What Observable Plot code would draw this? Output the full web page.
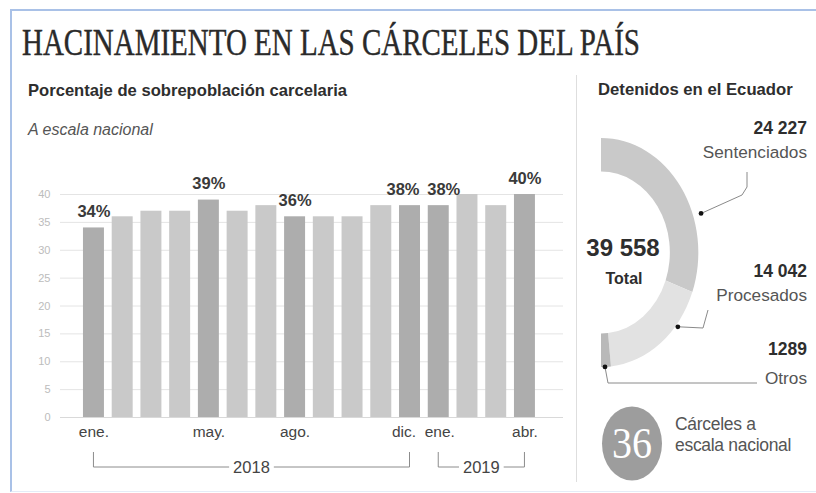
<!DOCTYPE html>
<html>
<head>
<meta charset="utf-8">
<script src="https://cdn.jsdelivr.net/npm/d3@7"></script>
<script src="https://cdn.jsdelivr.net/npm/@observablehq/plot@0.6"></script>
<style>
  html, body { margin: 0; padding: 0; background: #fff; }
  body { width: 816px; height: 493px; position: relative; overflow: hidden; font-family: "Liberation Sans", Arial, sans-serif; }
  .abs { position: absolute; }
  #frame { left: 10px; top: 9px; right: 0; bottom: 1px; border-left: 2px solid #a9c1e7; border-top: 2px solid #a9c1e7; border-bottom: 1px solid #e4ecf7; }
</style>
</head>
<body>
<div id="frame" class="abs"></div>
<svg id="header" class="abs" style="left:0;top:0" width="816" height="145"></svg>
<div id="bars" class="abs" style="left:0;top:150px"></div>
<div id="panel" class="abs" style="left:576px;top:70px"></div>
<script>
// ---------- data ----------
const titleText = "HACINAMIENTO EN LAS CÁRCELES DEL PAÍS";
const chartTitle = "Porcentaje de sobrepoblación carcelaria";
const chartSubtitle = "A escala nacional";
const periods = ["2018-01","2018-02","2018-03","2018-04","2018-05","2018-06","2018-07","2018-08","2018-09","2018-10","2018-11","2018-12","2019-01","2019-02","2019-03","2019-04"];
const monthTicks = ["ene.","","","","may.","","","ago.","","","","dic.","ene.","","","abr."];
const overcrowding = [34,36,37,37,39,37,38,36,36,36,38,38,38,40,38,40];
const yTicks = [0,5,10,15,20,25,30,35,40];
const yearLabels = ["2018","2019"];
const yearStart = ["2018-01","2019-01"];
const yearEnd = ["2018-12","2019-04"];
const panelTitle = "Detenidos en el Ecuador";
const detaineeCategories = ["Sentenciados","Procesados","Otros"];
const detainees = [24227, 14042, 1289];
const totalLabel = "Total";
const prisons = 36;
const prisonsLabel = ["Cárceles a", "escala nacional"];

// ---------- header ----------
const header = d3.select("#header");
header.append("text").attr("x", 22).attr("y", 55)
  .attr("font-family", "'Liberation Serif', 'DejaVu Serif', serif").attr("font-size", 37)
  .attr("fill", "#2a2a2a").attr("stroke", "#2a2a2a").attr("stroke-width", 0.4)
  .attr("textLength", 618).attr("lengthAdjust", "spacingAndGlyphs")
  .text(titleText);
header.append("text").attr("x", 28).attr("y", 96)
  .attr("font-size", 16.6).attr("font-weight", "bold").attr("fill", "#2e2e2e").text(chartTitle);
header.append("text").attr("x", 28).attr("y", 135)
  .attr("font-size", 16).attr("font-style", "italic").attr("fill", "#555").text(chartSubtitle);

// ---------- bar chart ----------
const rows = periods.map((p, i) => ({
  period: p, value: overcrowding[i], label: monthTicks[i],
  tone: monthTicks[i] ? "destacado" : "normal",
  pair: monthTicks[i] && monthTicks[i + 1] ? "left" : (monthTicks[i] && monthTicks[i - 1] ? "right" : "none")
}));
const labelled = rows.filter(d => d.label);

function yearBrackets(index, scales) {
  const x = scales.x;
  const bw = typeof x.bandwidth === "function" ? x.bandwidth() : 0;
  const g = d3.create("svg:g");
  yearLabels.forEach((label, i) => {
    const x1 = x(yearStart[i]) + bw / 2, x2 = x(yearEnd[i]) + bw / 2, xm = (x1 + x2) / 2;
    const yTop = 302, yLine = 317;
    const half = label.length * 0.556 * 16.5 / 2 + 4;
    g.append("path").attr("fill", "none").attr("stroke", "#8c8c8c").attr("stroke-width", 1)
      .attr("d", `M${x1},${yTop}V${yLine}H${xm - half}M${xm + half},${yLine}H${x2}V${yTop}`);
    g.append("text").attr("x", xm).attr("y", yLine).attr("dy", "0.36em").attr("text-anchor", "middle")
      .attr("font-size", 16.5).attr("fill", "#444").text(label);
  });
  return g.node();
}

const shift = {left: [-6, -7], right: [1, 5], none: [0, 0]};
const tickMarks = Object.keys(shift).map(k => Plot.text(labelled.filter(d => d.pair === k), {
  x: "period", text: "label", frameAnchor: "bottom", dy: 19, dx: shift[k][0], fontSize: 15.5, fill: "#444"
}));
const valueMarks = Object.keys(shift).map(k => Plot.text(labelled.filter(d => d.pair === k), {
  x: "period", y: "value", text: d => d.value + "%", dy: -16, dx: shift[k][1],
  fontSize: 16.5, fontWeight: "bold", fill: "#3a3a3a"
}));

const barChart = Plot.plot({
  width: 575, height: 337,
  marginTop: 44, marginBottom: 70, marginLeft: 60, marginRight: 12,
  style: {fontFamily: "'Liberation Sans', Arial, sans-serif", background: "transparent", overflow: "visible"},
  x: {type: "band", domain: periods, paddingInner: 0.27, paddingOuter: 0.888, align: 0.45, round: false, axis: null},
  y: {domain: [0, 40], axis: null},
  color: {type: "ordinal", domain: ["destacado", "normal"], range: ["#adadad", "#c9c9c9"]},
  marks: [
    Plot.gridY(yTicks, {stroke: "#e4e4e4", strokeOpacity: 1}),
    Plot.ruleY([0], {stroke: "#d9d9d9"}),
    Plot.axisY(yTicks, {anchor: "left", label: null, tickSize: 0, tickPadding: 10, fontSize: 11, color: "#bcbcbc", tickFormat: d => String(d)}),
    Plot.barY(rows, {x: "period", y: "value", fill: "tone"}),
    ...tickMarks,
    ...valueMarks,
    yearBrackets
  ]
});
document.getElementById("bars").appendChild(barChart);

// ---------- detainees panel ----------
const segColor = Plot.scale({color: {type: "ordinal", domain: detaineeCategories, range: ["#c9c9c9", "#e2e2e2", "#b9b9b9"]}});
const fmt = n => n >= 10000 ? d3.format(",")(n).replace(/,/g, " ") : String(n);

function donut() {
  const g = d3.create("svg:g");
  const cx = 25, cy = 182.5, sx = 0.85, rIn = 81, rOut = 114.5;
  g.append("line").attr("x1", 0.5).attr("x2", 0.5).attr("y1", 5).attr("y2", 412).attr("stroke", "#dedede");
  g.append("text").attr("x", 22).attr("y", 25).attr("text-anchor", "start").attr("font-size", 16.7).attr("font-weight", "bold")
    .attr("fill", "#2e2e2e").text(panelTitle);
  const pie = d3.pie().sort(null).startAngle(0).endAngle(Math.PI)(detainees);
  const arc = d3.arc().innerRadius(rIn).outerRadius(rOut);
  g.append("g").attr("transform", `translate(${cx},${cy}) scale(${sx},1)`)
    .selectAll("path").data(pie).join("path")
    .attr("d", arc).attr("fill", (d, i) => segColor.apply(detaineeCategories[i]));
  const callouts = [
    {t: 0.65, r: 124, path: [[166, 125], [171, 117], [171, 102]], numY: 64, labY: 88},
    {t: 0.30, r: 117, path: [[127, 258], [132, 240]], numY: 207, labY: 231},
    {t: 0.60, r: 114.5, path: [[32, 313], [181, 313]], numY: 285, labY: 314}
  ];
  pie.forEach((s, i) => {
    const c = callouts[i];
    const a = s.startAngle + c.t * (s.endAngle - s.startAngle);
    const px = cx + sx * c.r * Math.sin(a), py = cy - c.r * Math.cos(a);
    g.append("path").attr("fill", "none").attr("stroke", "#8a8a8a").attr("stroke-width", 1)
      .attr("d", "M" + [[px, py], ...c.path].map(p => p.join(",")).join("L"));
    g.append("circle").attr("cx", px).attr("cy", py).attr("r", 2.4).attr("fill", "#111");
    g.append("text").attr("x", 231).attr("y", c.numY).attr("text-anchor", "end")
      .attr("font-size", 17.5).attr("font-weight", "bold").attr("fill", "#2e2e2e").text(fmt(detainees[i]));
    g.append("text").attr("x", 231).attr("y", c.labY).attr("text-anchor", "end")
      .attr("font-size", 17.2).attr("fill", "#555").text(detaineeCategories[i]);
  });
  g.append("text").attr("x", 47).attr("y", 186).attr("text-anchor", "middle")
    .attr("font-size", 24).attr("font-weight", "bold").attr("fill", "#2e2e2e").text(fmt(d3.sum(detainees)));
  g.append("text").attr("x", 48).attr("y", 214).attr("text-anchor", "middle")
    .attr("font-size", 16).attr("font-weight", "bold").attr("fill", "#2e2e2e").text(totalLabel);
  g.append("ellipse").attr("cx", 56).attr("cy", 373.5).attr("rx", 30).attr("ry", 37).attr("fill", "#9d9d9d");
  g.append("text").attr("x", 56).attr("y", 388).attr("text-anchor", "middle")
    .attr("font-family", "'Liberation Serif', serif").attr("font-size", 44).attr("fill", "#fff")
    .attr("textLength", 40).attr("lengthAdjust", "spacingAndGlyphs").text(String(prisons));
  prisonsLabel.forEach((t, i) => {
    g.append("text").attr("x", 99).attr("y", 360 + i * 21).attr("text-anchor", "start")
      .attr("font-size", 17.5).attr("letter-spacing", -0.3).attr("fill", "#555").text(t);
  });
  return g.node();
}

const panel = Plot.plot({
  width: 240, height: 423, margin: 0,
  style: {fontFamily: "'Liberation Sans', Arial, sans-serif", background: "transparent", overflow: "visible"},
  marks: [donut]
});
document.getElementById("panel").appendChild(panel);
</script>
</body>
</html>
